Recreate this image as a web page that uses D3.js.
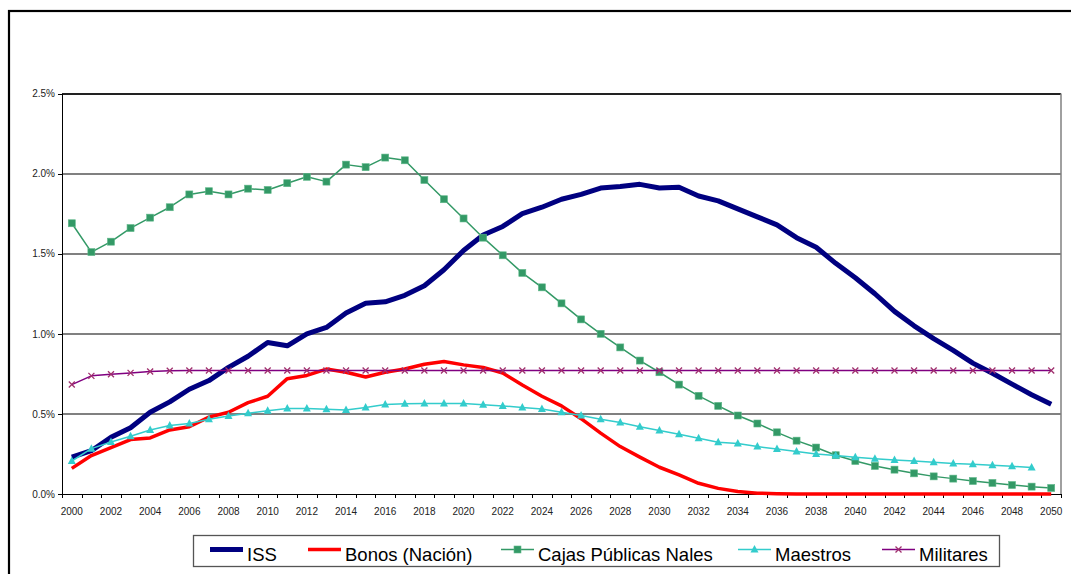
<!DOCTYPE html>
<meta charset="utf-8">
<style>
    body { margin: 0; background: #fff; }
    .axis text { font: 10px "Liberation Sans", Arial, sans-serif; fill: #222; }
    .axis path, .axis line { stroke: #000; shape-rendering: crispEdges; }
    .grid line { stroke: #808080; stroke-width: 1.5; shape-rendering: crispEdges; }
    .legend text { font: 18.5px "Liberation Sans", Arial, sans-serif; fill: #000; }
</style>
<svg id="chart" width="1071" height="574"></svg>
<script src="https://cdn.jsdelivr.net/npm/d3@7"></script>
<script>

    // años 2000..2050
    var years = d3.range(2000, 2051);

    var yTicks = [0, 0.005, 0.010, 0.015, 0.020, 0.025];

    var iss = [0.23, 0.27, 0.354, 0.414, 0.51, 0.575, 0.654, 0.708, 0.79, 0.86,
        0.946, 0.925, 1.00, 1.04, 1.13, 1.19, 1.20, 1.24, 1.30, 1.40,
        1.52, 1.617, 1.67, 1.75, 1.79, 1.84, 1.87, 1.91, 1.92, 1.933,
        1.91, 1.915, 1.86, 1.83, 1.78, 1.73, 1.68, 1.60, 1.54, 1.44,
        1.35, 1.25, 1.14, 1.05, 0.97, 0.896, 0.817, 0.754, 0.686, 0.62, 0.56];

    var bonos = [0.16, 0.24, 0.29, 0.34, 0.35, 0.40, 0.42, 0.48, 0.51, 0.57,
        0.61, 0.72, 0.74, 0.78, 0.76, 0.73, 0.76, 0.78, 0.81, 0.827,
        0.806, 0.79, 0.755, 0.68, 0.61, 0.55, 0.47, 0.38, 0.296, 0.23,
        0.167, 0.119, 0.067, 0.035, 0.015, 0.005, 0.002, 0, 0, 0,
        0, 0, 0, 0, 0, 0, 0, 0, 0, 0, 0];

    var cajas = [1.69, 1.51, 1.575, 1.66, 1.725, 1.79, 1.87, 1.89, 1.87, 1.906,
        1.898, 1.94, 1.98, 1.95, 2.056, 2.04, 2.10, 2.083, 1.96, 1.84,
        1.72, 1.60, 1.49, 1.38, 1.29, 1.19, 1.09, 1.00, 0.915, 0.833,
        0.76, 0.683, 0.613, 0.55, 0.49, 0.44, 0.385, 0.333, 0.29, 0.242,
        0.206, 0.175, 0.152, 0.129, 0.11, 0.096, 0.081, 0.069, 0.056, 0.046, 0.0375];

    var maestros = [0.206, 0.283, 0.325, 0.36, 0.40, 0.427, 0.44, 0.467, 0.487, 0.504,
        0.519, 0.533, 0.533, 0.529, 0.525, 0.54, 0.558, 0.563, 0.565, 0.565,
        0.565, 0.557, 0.55, 0.54, 0.53, 0.51, 0.49, 0.467, 0.446, 0.42,
        0.396, 0.373, 0.348, 0.323, 0.315, 0.296, 0.281, 0.265, 0.25, 0.24,
        0.23, 0.22, 0.2125, 0.206, 0.198, 0.19, 0.186, 0.18, 0.173, 0.165, null];

    var militares = [0.683, 0.7375, 0.748, 0.756, 0.765, 0.769, 0.771, 0.771, 0.771, 0.771,
        0.771, 0.771, 0.771, 0.771, 0.771, 0.771, 0.771, 0.771, 0.771, 0.771,
        0.771, 0.771, 0.771, 0.771, 0.771, 0.771, 0.771, 0.771, 0.771, 0.771,
        0.771, 0.771, 0.771, 0.771, 0.771, 0.771, 0.771, 0.771, 0.771, 0.771,
        0.771, 0.771, 0.771, 0.771, 0.771, 0.771, 0.771, 0.771, 0.771, 0.771, 0.771];

    var series = [
        {name: "ISS", values: iss, color: "#000080", width: 5, marker: null},
        {name: "Bonos (Nación)", values: bonos, color: "#ff0000", width: 3.5, marker: null},
        {name: "Cajas Públicas Nales", values: cajas, color: "#339966", width: 1.5, marker: "square", mcolor: "#339966"},
        {name: "Maestros", values: maestros, color: "#33cccc", width: 1.5, marker: "triangle", mcolor: "#33cccc"},
        {name: "Militares", values: militares, color: "#800080", width: 1.5, marker: "cross", mcolor: "#a0306e"}
    ];

    var legendX = [210, 308, 501, 738, 882];

    var plot = {left: 62, top: 93.5, right: 1061, bottom: 494};

    var svg = d3.select("#chart");

    // marco exterior
    svg.append("rect")
        .attr("x", 9).attr("y", 11)
        .attr("width", 1100).attr("height", 600)
        .attr("fill", "none")
        .attr("stroke", "#000")
        .attr("stroke-width", 2.2);

    var x = d3.scaleBand()
        .domain(years)
        .range([plot.left, plot.right]);

    var y = d3.scaleLinear()
        .domain([0, 0.025])
        .range([plot.bottom, plot.top]);

    var cx = function(i) { return x(years[i]) + x.bandwidth() / 2; };

    // grid
    svg.append("g")
        .attr("class", "grid")
        .selectAll("line")
        .data(yTicks.slice(1))
        .enter().append("line")
        .attr("x1", plot.left).attr("x2", plot.right)
        .attr("y1", function(d) { return Math.round(y(d)); })
        .attr("y2", function(d) { return Math.round(y(d)); })
        .style("stroke", function(d) { return d === 0.025 ? "#222" : null; });

    // borde derecho
    svg.append("line")
        .attr("x1", plot.right).attr("x2", plot.right)
        .attr("y1", plot.top).attr("y2", plot.bottom)
        .attr("stroke", "#808080")
        .attr("stroke-width", 1.5);

    // eje y
    svg.append("g")
        .attr("class", "axis")
        .attr("transform", "translate(" + plot.left + ",0)")
        .call(d3.axisLeft(y).tickValues(yTicks).tickFormat(d3.format(".1%")).tickSize(4).tickPadding(3).tickSizeOuter(0));

    // eje x
    var gX = svg.append("g")
        .attr("class", "axis")
        .attr("transform", "translate(0," + plot.bottom + ")")
        .call(d3.axisBottom(x)
            .tickValues(years.filter(function(d) { return d % 2 === 0; }))
            .tickSize(0).tickPadding(14).tickSizeOuter(0));
    gX.select(".domain").attr("stroke-width", 1.2);

    gX.selectAll(".cat-tick")
        .data(years.concat(["end"]))
        .enter().append("line")
        .attr("class", "cat-tick")
        .attr("x1", function(d) { return d === "end" ? plot.right : Math.round(x(d)) + 0.5; })
        .attr("x2", function(d) { return d === "end" ? plot.right : Math.round(x(d)) + 0.5; })
        .attr("y1", 0).attr("y2", 4);

    function drawMarker(g, type, color, px, py) {
        if (type === "square") {
            g.append("rect")
                .attr("x", px - 3.5).attr("y", py - 3.5)
                .attr("width", 7).attr("height", 7)
                .attr("fill", color)
                .attr("stroke", "#5fb88a").attr("stroke-width", 0.6);
        } else if (type === "triangle") {
            g.append("path")
                .attr("d", "M" + px + "," + (py - 4.5) + "L" + (px + 4) + "," + (py + 3) + "L" + (px - 4) + "," + (py + 3) + "Z")
                .attr("fill", color);
        } else if (type === "cross") {
            g.append("path")
                .attr("d", "M" + (px - 3) + "," + (py - 3) + "L" + (px + 3) + "," + (py + 3) +
                    "M" + (px - 3) + "," + (py + 3) + "L" + (px + 3) + "," + (py - 3))
                .attr("stroke", color).attr("stroke-width", 1.3).attr("fill", "none");
        }
    }

    var line = d3.line()
        .defined(function(d) { return d != null; })
        .x(function(d, i) { return cx(i); })
        .y(function(d) { return y(d / 100); });

    series.forEach(function(s) {
        var g = svg.append("g");
        g.append("path")
            .datum(s.values)
            .attr("d", line)
            .attr("fill", "none")
            .attr("stroke", s.color)
            .attr("stroke-width", s.width)
            .attr("stroke-linejoin", "round");
        if (s.marker) {
            s.values.forEach(function(v, i) {
                if (v != null) drawMarker(g, s.marker, s.mcolor, cx(i), y(v / 100));
            });
        }
    });

    // leyenda
    var leg = svg.append("g").attr("class", "legend");
    leg.append("rect")
        .attr("x", 193.5).attr("y", 535.5)
        .attr("width", 806).attr("height", 31)
        .attr("fill", "#fff")
        .attr("stroke", "#555").attr("stroke-width", 1.3);

    series.forEach(function(s, i) {
        var lx = legendX[i], ly = 549.5;
        leg.append("line")
            .attr("x1", lx).attr("x2", lx + 33)
            .attr("y1", ly).attr("y2", ly)
            .attr("stroke", s.color)
            .attr("stroke-width", s.width);
        if (s.marker) drawMarker(leg, s.marker, s.mcolor, lx + 16.5, ly);
        leg.append("text")
            .attr("x", lx + 37)
            .attr("y", 561)
            .text(s.name);
    });

</script>
